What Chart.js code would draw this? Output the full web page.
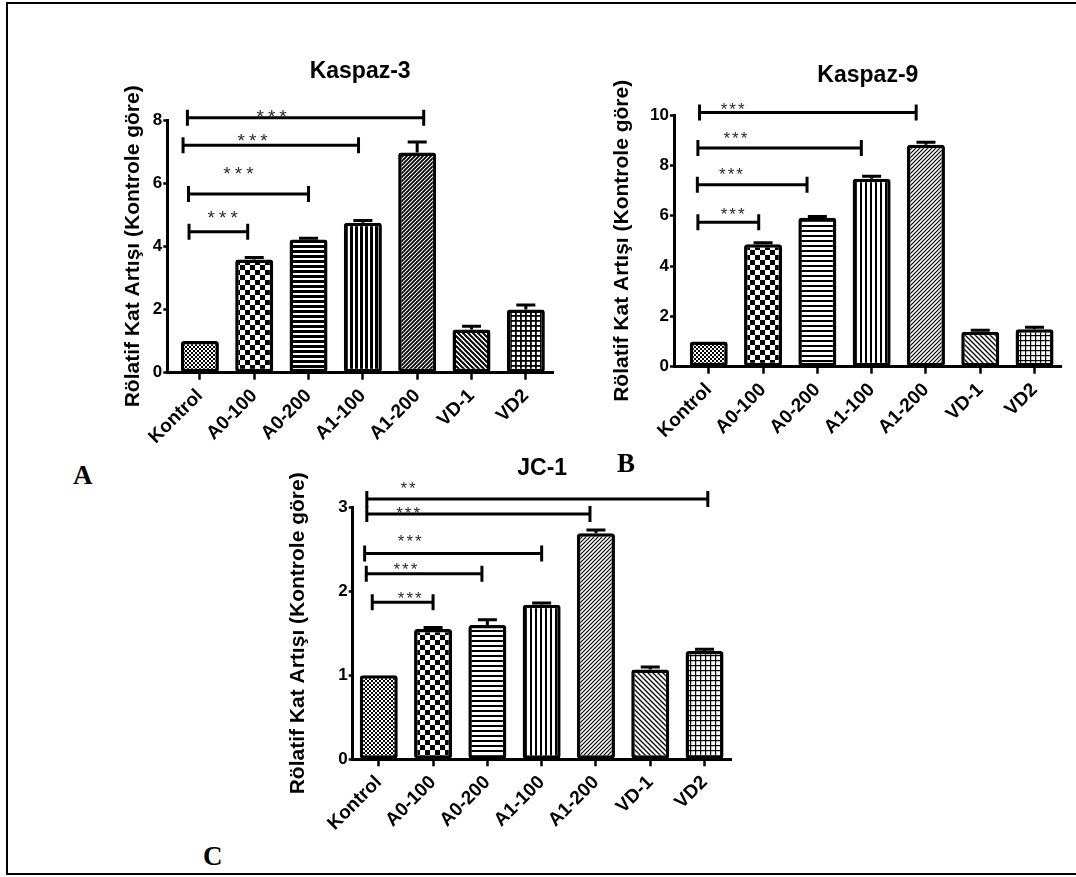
<!DOCTYPE html>
<html>
<head>
<meta charset="utf-8">
<script src="https://cdn.jsdelivr.net/npm/chart.js@4.4.1/dist/chart.umd.min.js"></script>
<style>
  body { margin: 0; background: #fff; width: 1076px; height: 877px; overflow: hidden; position: relative; }
  #frame { position: absolute; left: 6px; top: 2px; width: 1100px; height: 873px; box-sizing: border-box; border: 2px solid #000; }
  .panel { position: absolute; }
  .tag { position: absolute; font-family: 'Liberation Serif', 'Times New Roman', serif; font-weight: bold; font-size: 27px; line-height: 27px; color: #000; }
</style>
</head>
<body>
<div id="frame"></div>
<div class="panel" style="left:95px;top:40px"><canvas id="kaspaz3" width="475" height="410"></canvas></div>
<div class="panel" style="left:600px;top:40px"><canvas id="kaspaz9" width="470" height="410"></canvas></div>
<div class="panel" style="left:275px;top:440px"><canvas id="jc1" width="470" height="430"></canvas></div>
<div class="tag" style="left:73px;top:462px">A</div>
<div class="tag" style="left:617px;top:450px">B</div>
<div class="tag" style="left:203px;top:843px">C</div>
<script>
// gruplar
const categories = ['Kontrol', 'A0-100', 'A0-200', 'A1-100', 'A1-200', 'VD-1', 'VD2'];
const yTitle = 'Rölatif Kat Artışı (Kontrole göre)';

// Kaspaz-3
const kaspaz3 = [1.0, 3.58, 4.22, 4.75, 6.97, 1.37, 2.0];
const kaspaz3Err = [0, 0.07, 0.04, 0.07, 0.33, 0.1, 0.14];
const kaspaz3Ticks = [0, 2, 4, 6, 8];
// [baslangic, bitis, seviye, etiket, etiketX, etiketY]
const kaspaz3Sig = [
    [-0.2, 0.88, 4.46, '***', 0.42, 5.06],
    [-0.21, 2.0, 5.66, '***', 0.71, 6.45],
    [-0.31, 2.92, 7.2, '***', 0.97, 7.49],
    [-0.23, 4.12, 8.07, '***', 1.32, 8.26]
];

// Kaspaz-9
const kaspaz9 = [1.0, 4.86, 5.92, 7.47, 8.82, 1.39, 1.49];
const kaspaz9Err = [0, 0.06, 0.05, 0.1, 0.1, 0.06, 0.08];
const kaspaz9Ticks = [0, 2, 4, 6, 8, 10];
const kaspaz9Sig = [
    [-0.2, 0.92, 5.74, '***', 0.44, 6.2],
    [-0.21, 1.81, 7.23, '***', 0.41, 7.79],
    [-0.2, 2.81, 8.69, '***', 0.49, 9.23],
    [-0.17, 3.82, 10.1, '***', 0.44, 10.4]
];

// JC-1
const jc1 = [1.0, 1.55, 1.60, 1.84, 2.69, 1.07, 1.29];
const jc1Err = [0, 0.02, 0.06, 0.02, 0.04, 0.03, 0.02];
const jc1Ticks = [0, 1, 2, 3];
const jc1Sig = [
    [-0.12, 1.0, 1.87, '***', 0.57, 1.96],
    [-0.23, 1.9, 2.21, '***', 0.49, 2.31],
    [-0.26, 3.0, 2.45, '***', 0.57, 2.64],
    [-0.22, 3.89, 2.92, '***', 0.54, 2.98],
    [-0.22, 6.06, 3.1, '**', 0.54, 3.27]
];

const FONT = "'Liberation Sans', Arial, sans-serif";

function tile(size, draw) {
    const c = document.createElement('canvas');
    c.width = size;
    c.height = size;
    const g = c.getContext('2d');
    g.fillStyle = '#fff';
    g.fillRect(0, 0, size, size);
    g.fillStyle = '#000';
    g.strokeStyle = '#000';
    draw(g, size);
    return c;
}

function diagonal(g, s, w, flip) {
    g.lineWidth = w;
    g.beginPath();
    if (!flip) {
        g.moveTo(0, s); g.lineTo(s, 0);
        g.moveTo(-1, 1); g.lineTo(1, -1);
        g.moveTo(s - 1, s + 1); g.lineTo(s + 1, s - 1);
    } else {
        g.moveTo(0, 0); g.lineTo(s, s);
        g.moveTo(-1, s - 1); g.lineTo(1, s + 1);
        g.moveTo(s - 1, -1); g.lineTo(s + 1, 1);
    }
    g.stroke();
}

function makePatterns(ctx, ink) {
    const p = (c) => ctx.createPattern(c, 'repeat');
    return [
        p(tile(4, g => { g.fillRect(0, 0, 2, 2); g.fillRect(2, 2, 2, 2); })),
        p(tile(10, g => { g.fillRect(0, 0, 5, 5); g.fillRect(5, 5, 5, 5); })),
        p(tile(5, (g, s) => g.fillRect(0, 0, s, ink))),
        p(tile(5, (g, s) => g.fillRect(0, 0, ink, s))),
        p(tile(4, (g, s) => diagonal(g, s, ink * 0.6, false))),
        p(tile(5, (g, s) => diagonal(g, s, ink * 0.65, true))),
        p(tile(5, (g, s) => { g.fillRect(0, 0, s, ink * 0.6); g.fillRect(0, 0, ink * 0.6, s); }))
    ];
}

function annotations(sig, star) {
    return {
        id: 'annotations',
        afterDatasetsDraw(chart) {
            const { ctx, scales: { x, y } } = chart;
            const ds = chart.data.datasets[0];
            const meta = chart.getDatasetMeta(0);
            ctx.save();
            ctx.strokeStyle = '#000';
            ctx.lineWidth = 3;
            // hata cubuklari
            meta.data.forEach((bar, i) => {
                const e = ds.errors[i];
                if (!e) return;
                const top = y.getPixelForValue(ds.data[i].y + e);
                const half = bar.width / 4;
                ctx.beginPath();
                ctx.moveTo(bar.x, bar.y);
                ctx.lineTo(bar.x, top);
                ctx.moveTo(bar.x - half, top);
                ctx.lineTo(bar.x + half, top);
                ctx.stroke();
            });
            // anlamlilik cizgileri
            sig.forEach(([from, to, level, label, lx, ly]) => {
                const x0 = x.getPixelForValue(from);
                const x1 = x.getPixelForValue(to);
                const yy = y.getPixelForValue(level);
                ctx.beginPath();
                ctx.moveTo(x0, yy); ctx.lineTo(x1, yy);
                ctx.moveTo(x0, yy - 8); ctx.lineTo(x0, yy + 8);
                ctx.moveTo(x1, yy - 8); ctx.lineTo(x1, yy + 8);
                ctx.stroke();
                ctx.fillStyle = '#2a2a2a';
                ctx.font = star.size + 'px ' + FONT;
                ctx.letterSpacing = star.gap + 'px';
                ctx.textAlign = 'center';
                ctx.textBaseline = 'alphabetic';
                ctx.fillText(label, x.getPixelForValue(lx) + star.gap / 2, y.getPixelForValue(ly) + star.size * 0.575);
            });
            ctx.restore();
        }
    };
}

function renderPanel(canvasId, title, values, errors, yTicks, sig, lay) {
    if (typeof Chart === 'undefined') {
        throw new Error('Chart.js yüklenmedi.');
    }
    const ctx = document.getElementById(canvasId).getContext('2d');
    const yMax = yTicks[yTicks.length - 1];
    return new Chart(ctx, {
        type: 'bar',
        data: {
            datasets: [{
                data: values.map((v, i) => ({ x: i, y: v })),
                errors: errors,
                backgroundColor: makePatterns(ctx, lay.ink),
                borderColor: '#000',
                borderWidth: 3.5,
                borderRadius: 3,
                borderSkipped: false,
                barPercentage: 0.7,
                categoryPercentage: 1
            }]
        },
        plugins: [annotations(sig, lay.star)],
        options: {
            responsive: false,
            animation: false,
            layout: { padding: { left: 0, right: lay.padRight, top: 0, bottom: 0 } },
            plugins: {
                legend: { display: false },
                tooltip: { enabled: false },
                title: {
                    display: true,
                    text: title,
                    fullSize: false,
                    color: '#000',
                    font: { family: FONT, size: 23, weight: 'bold' },
                    padding: { top: lay.titleTop, bottom: lay.titleBottom }
                }
            },
            scales: {
                x: {
                    type: 'linear',
                    offset: false,
                    min: lay.xMin,
                    max: 6.5,
                    afterBuildTicks: s => { s.ticks = categories.map((c, i) => ({ value: i })); },
                    afterFit: s => { s.height = lay.xHeight; },
                    grid: { display: true, offset: false, drawOnChartArea: false, tickLength: 7, tickWidth: 2.5, tickColor: '#000' },
                    border: { display: true, width: 3, color: '#000' },
                    ticks: {
                        autoSkip: false,
                        minRotation: 45,
                        maxRotation: 45,
                        labelOffset: 0,
                        padding: 5,
                        color: '#000',
                        font: { family: FONT, size: 19, weight: 'bold' },
                        callback: (v, i) => categories[i]
                    }
                },
                y: {
                    min: 0,
                    max: yMax,
                    afterBuildTicks: s => { s.ticks = yTicks.map(v => ({ value: v })); },
                    afterFit: s => { s.width = lay.yWidth; },
                    grid: { display: true, drawOnChartArea: false, tickLength: 4, tickWidth: 2.5, tickColor: '#000' },
                    border: { display: true, width: 3, color: '#000' },
                    ticks: {
                        padding: 1,
                        color: '#000',
                        font: { family: FONT, size: 17, weight: 'bold' }
                    },
                    title: {
                        display: true,
                        text: yTitle,
                        color: '#000',
                        font: { family: FONT, size: 21, weight: 'bold' },
                        padding: { top: lay.yTitlePad, bottom: 0 }
                    }
                }
            }
        }
    });
}

renderPanel('kaspaz3', 'Kaspaz-3', kaspaz3, kaspaz3Err, kaspaz3Ticks, kaspaz3Sig, {
    ink: 3, star: { size: 19, gap: 4 }, padRight: 17, xMin: -0.6, xHeight: 77.3, yWidth: 72.3,
    titleTop: 17.9, titleBottom: 34.5, yTitlePad: 25.4
});
renderPanel('kaspaz9', 'Kaspaz-9', kaspaz9, kaspaz9Err, kaspaz9Ticks, kaspaz9Sig, {
    ink: 2, star: { size: 17, gap: 2 }, padRight: 8.3, xMin: -0.64, xHeight: 83.3, yWidth: 74,
    titleTop: 21.9, titleBottom: 25.5, yTitlePad: 9.9
});
renderPanel('jc1', 'JC-1', jc1, jc1Err, jc1Ticks, jc1Sig, {
    ink: 2, star: { size: 17, gap: 2 }, padRight: 13.3, xMin: -0.48, xHeight: 110.7, yWidth: 77.7,
    titleTop: 15.2, titleBottom: 24.5, yTitlePad: 10.4
});
</script>
</body>
</html>
